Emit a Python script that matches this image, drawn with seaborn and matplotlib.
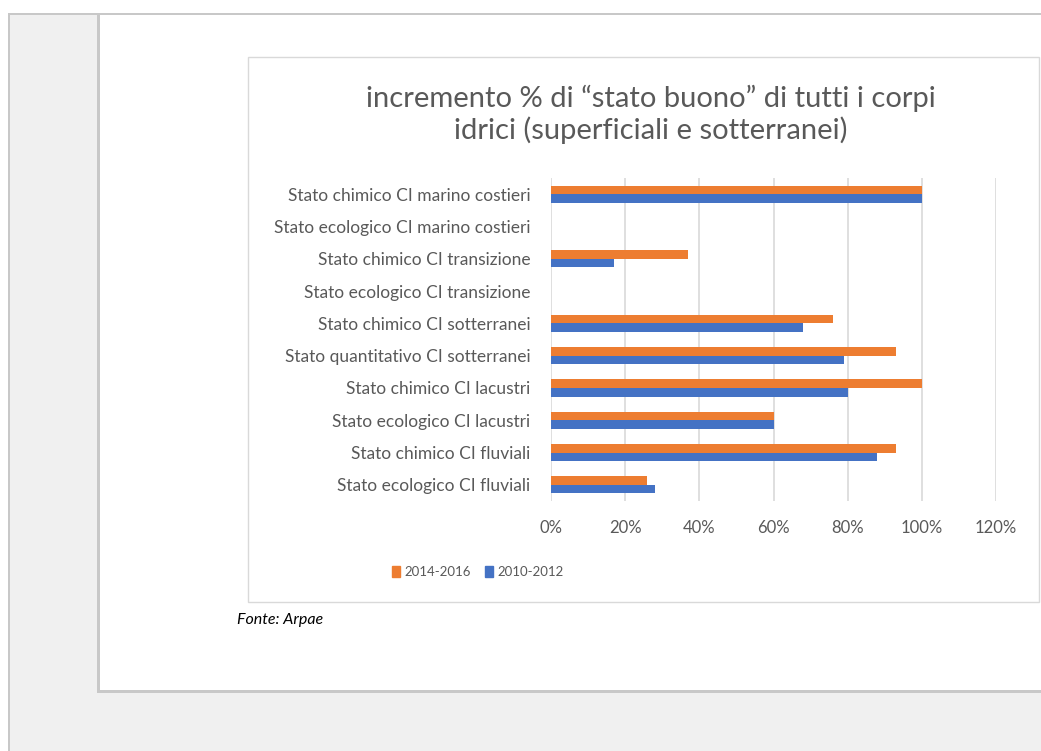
import pandas as pd
import numpy as np
import seaborn as sns
import matplotlib.pyplot as plt
import matplotlib.patches as mpatches
from matplotlib.ticker import PercentFormatter

# ---- data ----
categorie = [
    "Stato chimico CI marino costieri",
    "Stato ecologico CI marino costieri",
    "Stato chimico CI transizione",
    "Stato ecologico CI transizione",
    "Stato chimico CI sotterranei",
    "Stato quantitativo CI sotterranei",
    "Stato chimico CI lacustri",
    "Stato ecologico CI lacustri",
    "Stato chimico CI fluviali",
    "Stato ecologico CI fluviali",
]
val_2014_2016 = [1.00, 0.0, 0.37, 0.0, 0.76, 0.93, 1.00, 0.60, 0.93, 0.26]
val_2010_2012 = [1.00, 0.0, 0.17, 0.0, 0.68, 0.79, 0.80, 0.60, 0.88, 0.28]

HUE_ORDER = ["2014-2016", "2010-2012"]
PALETTE = {"2014-2016": "#ED7D31", "2010-2012": "#4472C4"}

TITLE = "incremento % di \u201cstato buono\u201d di tutti i corpi\nidrici (superficiali e sotterranei)"
FONTE = "Fonte: Arpae"

df = pd.concat([
    pd.DataFrame({"categoria": categorie, "valore": val_2014_2016, "periodo": "2014-2016"}),
    pd.DataFrame({"categoria": categorie, "valore": val_2010_2012, "periodo": "2010-2012"}),
], ignore_index=True)

sns.set_style("white")
plt.rcParams['font.family'] = ['Lato', 'DejaVu Sans']

W, H = 1041, 751
fig = plt.figure(figsize=(W / 100, H / 100), dpi=100, facecolor="white")


def px_rect(x0, y0, x1, y1, fc, ec="none", lw=0):
    # rectangle given in pixel coords (top-left origin), kept behind the axes
    fig.patches.append(mpatches.Rectangle(
        (x0 / W, 1 - y1 / H), (x1 - x0) / W, (y1 - y0) / H,
        transform=fig.transFigure, facecolor=fc, edgecolor=ec, linewidth=lw, zorder=-5))


# page frame
px_rect(8, 13, W, H, "#c8c8c8")
px_rect(10, 15, W, H, "#f0f0f0")
px_rect(97, 15, W, 693, "#c8c8c8")
px_rect(100, 15, W, 690, "white")
# chart box
px_rect(248, 57, 1039, 602, "white", ec="#d9d9d9", lw=1)

ax = fig.add_axes([551 / W, 1 - 501 / H, (996 - 551) / W, 323 / H])
ax.set_facecolor("none")

sns.barplot(data=df, y="categoria", x="valore", hue="periodo", hue_order=HUE_ORDER,
            palette=PALETTE, orient="h", width=0.53, saturation=1, linewidth=0,
            ax=ax, legend=False, zorder=3)

ax.set_xlim(0, 1.2)
ax.set_xticks(np.arange(0, 1.21, 0.2))
ax.xaxis.set_major_formatter(PercentFormatter(1.0, decimals=0))
ax.grid(axis="x", color="#d9d9d9", linewidth=1.2, zorder=0)
ax.set_axisbelow(True)
for s in ax.spines.values():
    s.set_visible(False)
ax.tick_params(length=0, colors="#595959")
ax.tick_params(axis="x", pad=14, labelsize=12)
ax.tick_params(axis="y", pad=15, labelsize=12.5)
ax.set_xlabel("")
ax.set_ylabel("")

fig.text(651 / W, 1 - 114 / H, TITLE, ha="center", va="center", fontsize=21,
         color="#595959", linespacing=1.2)

handles = [mpatches.Patch(color=PALETTE[k], label=k) for k in HUE_ORDER]
fig.legend(handles=handles, loc="center", bbox_to_anchor=(478 / W, 1 - 572 / H), ncol=2,
           frameon=False, fontsize=9.5, handlelength=0.55, handleheight=0.9,
           handletextpad=0.35, columnspacing=1.1, labelcolor="#595959")

fig.text(237 / W, 1 - 620 / H, FONTE, ha="left", va="center", fontsize=11.5,
         style="italic", color="black")

plt.savefig("out.png", dpi=100)
